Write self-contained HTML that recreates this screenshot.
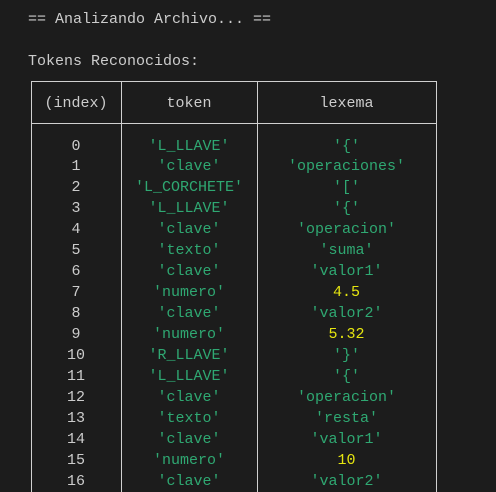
<!DOCTYPE html>
<html><head><meta charset="utf-8"><style>
body{margin:0;width:496px;height:492px;background:#1c1c1c;overflow:hidden;font-family:"Liberation Mono",monospace;font-size:15px;color:#cccccc;position:relative}
.t{position:absolute;white-space:pre}
.b{position:absolute;background:#d0d0d0}
.col{position:absolute;top:136.5px;text-align:center;line-height:20.94px;white-space:pre}
.g{color:#2fa872}.y{color:#e5e510}
</style></head><body>
<div class="t" style="left:28px;top:11px">== Analizando Archivo... ==</div>
<div class="t" style="left:28px;top:53px">Tokens Reconocidos:</div>
<div class="b" style="left:31px;top:81px;width:406px;height:1px"></div>
<div class="b" style="left:31px;top:123px;width:406px;height:1px"></div>
<div class="b" style="left:31px;top:81px;width:1px;height:411px"></div>
<div class="b" style="left:121px;top:81px;width:1px;height:411px"></div>
<div class="b" style="left:257px;top:81px;width:1px;height:411px"></div>
<div class="b" style="left:436px;top:81px;width:1px;height:411px"></div>
<div class="t" style="left:31px;width:90px;top:95px;text-align:center">(index)</div>
<div class="t" style="left:121px;width:136px;top:95px;text-align:center">token</div>
<div class="t" style="left:257px;width:179px;top:95px;text-align:center">lexema</div>
<div class="col" style="left:31px;width:90px">0
1
2
3
4
5
6
7
8
9
10
11
12
13
14
15
16</div>
<div class="col g" style="left:121px;width:136px">'L_LLAVE'
'clave'
'L_CORCHETE'
'L_LLAVE'
'clave'
'texto'
'clave'
'numero'
'clave'
'numero'
'R_LLAVE'
'L_LLAVE'
'clave'
'texto'
'clave'
'numero'
'clave'</div>
<div class="col" style="left:257px;width:179px"><span class="g">'{'</span>
<span class="g">'operaciones'</span>
<span class="g">'['</span>
<span class="g">'{'</span>
<span class="g">'operacion'</span>
<span class="g">'suma'</span>
<span class="g">'valor1'</span>
<span class="y">4.5</span>
<span class="g">'valor2'</span>
<span class="y">5.32</span>
<span class="g">'}'</span>
<span class="g">'{'</span>
<span class="g">'operacion'</span>
<span class="g">'resta'</span>
<span class="g">'valor1'</span>
<span class="y">10</span>
<span class="g">'valor2'</span></div>
</body></html>
